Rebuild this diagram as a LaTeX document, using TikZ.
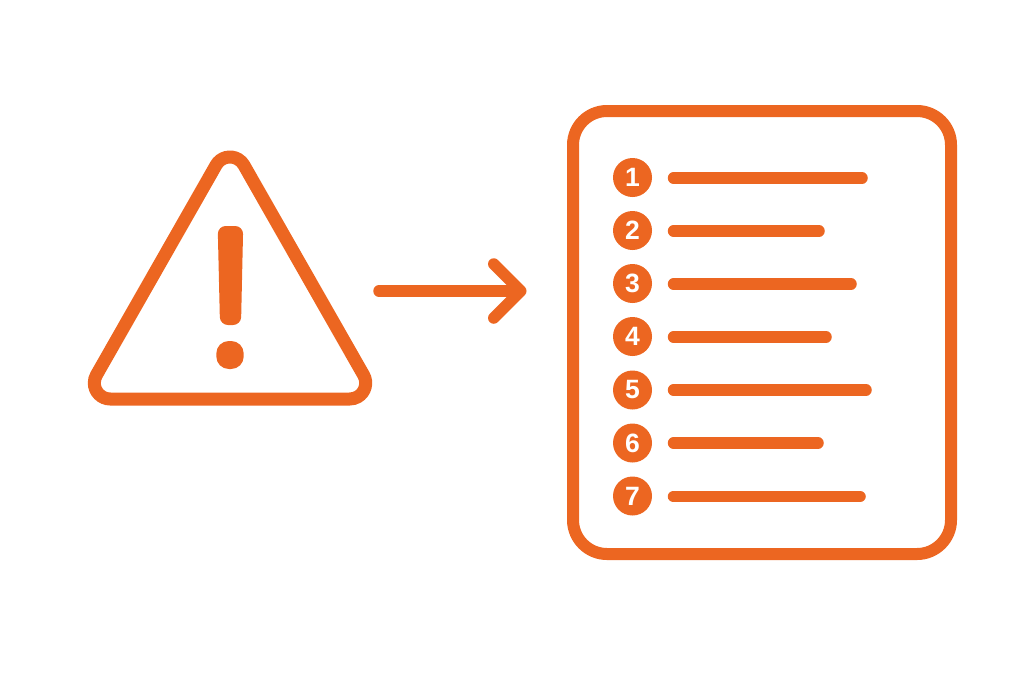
\documentclass[tikz,border=0pt]{standalone}
\usepackage{fontspec}
\setmainfont{Liberation Sans}
\usetikzlibrary{arrows.meta}
\definecolor{warnorange}{RGB}{236,102,33}
\tikzset{
  numdot/.style={circle, fill=warnorange, inner sep=0pt, minimum size=39pt, text=white, font=\fontsize{26.5}{26.5}\selectfont\bfseries},
  barline/.style={draw=warnorange, line width=11.5pt, line cap=round},
}

\begin{document}
\begin{tikzpicture}[x=1pt, y=-1pt]
  \useasboundingbox (0,0) rectangle (1024,683);
  % warning sign
  \draw[warnorange, line width=13pt] (216.14,165) arc[start angle=150, end angle=30, radius=16pt] -- (363.56,375) arc[start angle=30, end angle=-90, radius=16pt] -- (110.3,399) arc[start angle=270, end angle=150, radius=16pt] -- cycle;
  \fill[warnorange, rounded corners=8pt] (217.7,226) -- (243.2,226) -- (241,325) -- (220,325) -- cycle;
  \fill[warnorange, rounded corners=12.5pt] (216.3,341) rectangle (243.7,369);

  % list box
  \node (listbox) [draw=warnorange, line width=12pt, rounded corners=34pt, minimum width=378pt, minimum height=443pt] at (762,332.5) {};

  \coordinate (arrowstart) at (379,291);
  \coordinate (arrowend) at (526.5,291);
  \draw[warnorange, line width=11.5pt, line cap=round, -{Straight Barb[length=27pt, width=54pt, round]}] (arrowstart) -- (arrowend);

  \node (num1) [numdot] at (632.5,177.5) {1};
  \node (num2) [numdot] at (632.5,230.5) {2};
  \node (num3) [numdot] at (632.5,283.5) {3};
  \node (num4) [numdot] at (632.5,336.5) {4};
  \node (num5) [numdot] at (632.5,390) {5};
  \node (num6) [numdot] at (632.5,443) {6};
  \node (num7) [numdot] at (632.5,496) {7};

  \draw[barline] (673.5,178) -- (862,178);
  \draw[barline] (673.5,231) -- (819,231);
  \draw[barline] (673.5,284) -- (851,284);
  \draw[barline] (673.5,337) -- (826,337);
  \draw[barline] (673.5,390) -- (866,390);
  \draw[barline] (673.5,443) -- (818,443);
  \draw[barline] (673.5,496.5) -- (860,496.5);
\end{tikzpicture}
\end{document}
